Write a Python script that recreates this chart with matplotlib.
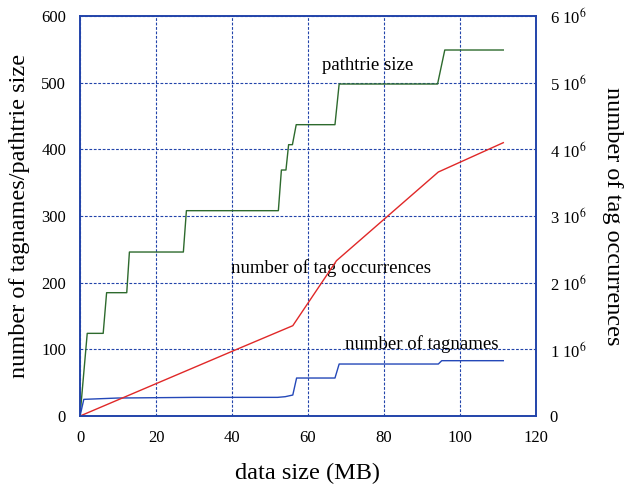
"""Tag statistics vs. data size."""

import matplotlib

matplotlib.use("Agg")
import matplotlib.pyplot as plt

plt.rcParams["font.family"] = "Liberation Serif"
plt.rcParams["mathtext.fontset"] = "stix"

# pathtrie size (left axis)
trie_x = [0, 1.9, 6.1, 7.0, 12.3, 13.0, 27.2, 28.0, 52.2, 53.0, 54.2, 54.9,
          55.9, 56.9, 67.1, 68.2, 94.1, 96.0, 111.4]
trie_y = [0, 124, 124, 185, 185, 246, 246, 308, 308, 369, 369, 407,
          407, 437, 437, 498, 498, 549, 549]

# number of tagnames (left axis)
names_x = [0, 1.0, 10.0, 30.0, 52.0, 54.0, 56.0, 57.0, 67.1, 68.2, 94.3, 95.2, 111.4]
names_y = [0, 25, 27, 28, 28, 29, 31.5, 57, 57, 78, 78, 83, 83]

# number of tag occurrences (right axis)
occ_x = [0, 40.0, 56.0, 67.5, 94.3, 111.4]
occ_y = [0, 0.97e6, 1.355e6, 2.33e6, 3.66e6, 4.1e6]

right_ticks = [0, 1e6, 2e6, 3e6, 4e6, 5e6, 6e6]
right_labels = ["0"] + [r"%d 10$^6$" % k for k in range(1, 7)]

blue = "#2244aa"

fig = plt.figure(figsize=(6.31, 4.91), dpi=100)
ax = fig.add_axes([0.1268, 0.1527, 0.7226, 0.8147])
ax2 = ax.twinx()

ax.plot(trie_x, trie_y, color="#2d6a2d", lw=1.0)
ax.plot(names_x, names_y, color="#2448b8", lw=1.0)
ax2.plot(occ_x, occ_y, color="#e02828", lw=1.0)

ax.set_xlim(0, 120)
ax.set_ylim(0, 600)
ax2.set_ylim(0, 6e6)
ax.set_xticks(range(0, 121, 20))
ax.set_yticks(range(0, 601, 100))
ax2.set_yticks(right_ticks)
ax2.set_yticklabels(right_labels)

ax.grid(True, color=blue, linestyle=(0, (2.5, 1.5)), linewidth=0.8)
for a in (ax, ax2):
    for s in a.spines.values():
        s.set_color(blue)
        s.set_linewidth(1.2)
    a.tick_params(length=0, labelsize=12, pad=10)

ax.text(75.8, 526, "pathtrie size", ha="center", va="center", fontsize=13.5)
ax.text(66, 222, "number of tag occurrences", ha="center", va="center", fontsize=13.5)
ax.text(90, 108, "number of tagnames", ha="center", va="center", fontsize=13.5)

ax.set_xlabel("data size (MB)", fontsize=17.5, labelpad=12)
ax.set_ylabel("number of tagnames/pathtrie size", fontsize=17.5, labelpad=8)
ax2.set_ylabel("number of tag occurrences", fontsize=17.5, rotation=270, labelpad=26)

fig.savefig("out.png", dpi=100)
